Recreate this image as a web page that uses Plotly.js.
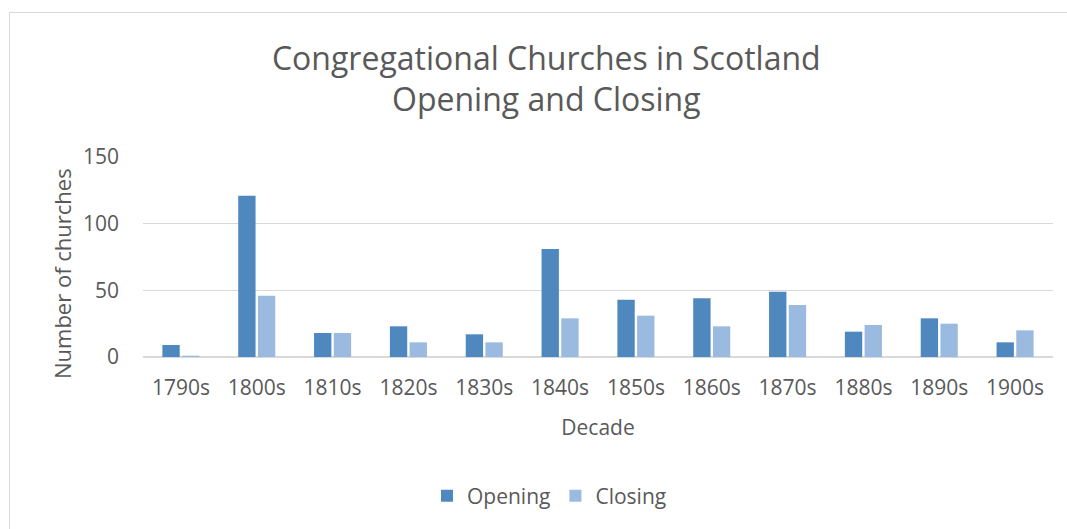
<!DOCTYPE html>
<html>
<head>
<meta charset="utf-8">
<script src="https://cdn.plot.ly/plotly-3.0.1.min.js"></script>
<style>
  html, body { margin: 0; padding: 0; background: #fff; }
  #wrap { position: relative; width: 1067px; height: 529px; }
  #chart { width: 1067px; height: 529px; }
  #frame { position: absolute; left: 9px; top: 12px; width: 1100px; height: 600px;
           border-left: 1px solid #d9d9d9; border-top: 1px solid #d9d9d9; pointer-events: none; }
</style>
</head>
<body>
<div id="wrap">
  <div id="chart"></div>
  <div id="frame"></div>
</div>
<script>
const decades = ["1790s","1800s","1810s","1820s","1830s","1840s","1850s","1860s","1870s","1880s","1890s","1900s"];
const opening = [9, 121, 18, 23, 17, 81, 43, 44, 49, 19, 29, 11];
const closing = [1, 46, 18, 11, 11, 29, 31, 23, 39, 24, 25, 20];
const yTicks = [0, 50, 100, 150];

const fontFam = "Open Sans, sans-serif";
const txt = "#595959";

const traces = [
  { type: "bar", name: "Opening", x: decades, y: opening,
    marker: { color: "#4f88be" }, hoverinfo: "x+y" },
  { type: "bar", name: "Closing", x: decades, y: closing,
    marker: { color: "#9bbae0" }, hoverinfo: "x+y" }
];

const layout = {
  width: 1067, height: 529,
  margin: { l: 143, r: 14, t: 157, b: 172 },
  paper_bgcolor: "#ffffff", plot_bgcolor: "#ffffff",
  font: { family: fontFam, color: txt, size: 21 },
  title: {
    text: "Congregational Churches in Scotland<br>Opening and Closing",
    font: { family: fontFam, size: 32, color: txt },
    xref: "container", x: 0.512, xanchor: "center",
    yref: "container", y: 0.868, yanchor: "top"
  },
  barmode: "group",
  bargap: 0.48,
  bargroupgap: 0.12,
  xaxis: {
    type: "category",
    showgrid: false, zeroline: false, showline: false, ticks: "",
    tickfont: { family: fontFam, size: 21, color: txt },
    ticklabelstandoff: 16,
    title: { text: "Decade", font: { family: fontFam, size: 21, color: txt }, standoff: 20 }
  },
  yaxis: {
    range: [0, 150], tickvals: yTicks, ticktext: yTicks.map(String),
    showgrid: true, gridcolor: "#d9d9d9", gridwidth: 1.5,
    zeroline: true, zerolinecolor: "#d9d9d9", zerolinewidth: 1.5,
    showline: false, ticks: "",
    tickfont: { family: fontFam, size: 21, color: txt },
    ticklabelstandoff: 23
  },
  annotations: [{
    text: "Number of churches", textangle: -90, showarrow: false,
    xref: "paper", x: -0.089, xanchor: "center",
    yref: "paper", y: 0.415, yanchor: "middle",
    font: { family: fontFam, size: 22, color: txt }
  }],
  showlegend: true,
  legend: {
    orientation: "h",
    xref: "container", x: 0.515, xanchor: "center",
    yref: "container", y: 0.062, yanchor: "middle",
    font: { family: fontFam, size: 21, color: txt },
    itemwidth: 30
  }
};

Plotly.newPlot("chart", traces, layout, { displayModeBar: false, staticPlot: true });
</script>
</body>
</html>
